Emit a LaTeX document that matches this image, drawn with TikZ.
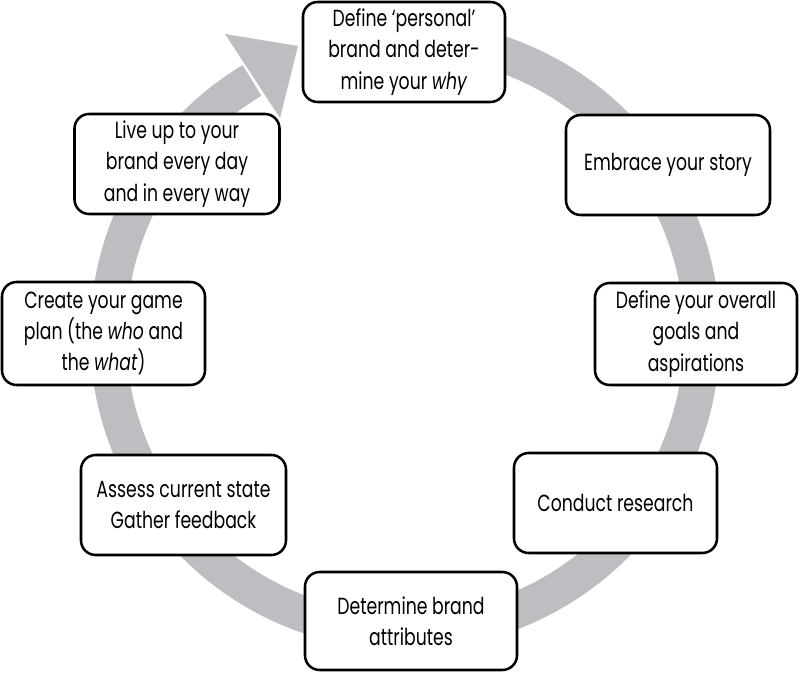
\documentclass[tikz,border=0pt]{standalone}
\usepackage{fontspec}
\setmainfont{Poppins}[FakeStretch=0.74]
\definecolor{ringgray}{RGB}{190,190,194}
\begin{document}
\begin{tikzpicture}[x=0.75pt,y=0.75pt,
  stagebox/.style={draw=black, line width=1.9pt, rounded corners=11pt, fill=white,
    align=center, inner sep=0pt, font=\fontsize{17.5}{23.5}\selectfont},
  ringband/.style={draw=ringgray, line width=27pt}]
\useasboundingbox (0,0) rectangle (800,675);
% ring
\coordinate (c) at (405,340);
\draw[ringband] ([shift={(80:222.75pt)}]c) arc[start angle=80, end angle=-239, radius=222.75pt];
\coordinate (hb1) at (225,641);
\coordinate (hb2) at (280,557);
\coordinate (htip) at (298,629);
\fill[ringgray] (hb1) -- (htip) -- (hb2) -- cycle;
% boxes
\node[stagebox, minimum width=202*0.75pt, minimum height=100*0.75pt] (n1) at (404,623) {Define `personal'\\ brand and deter-\\ mine your \textit{why}};
\node[stagebox, minimum width=204*0.75pt, minimum height=100*0.75pt] (n2) at (668,510) {Embrace your story};
\node[stagebox, minimum width=202*0.75pt, minimum height=102*0.75pt] (n3) at (696,341) {Define your overall\\ goals and\\ aspirations};
\node[stagebox, minimum width=203*0.75pt, minimum height=100*0.75pt] (n4) at (615.5,172) {Conduct research};
\node[stagebox, minimum width=212*0.75pt, minimum height=98*0.75pt] (n5) at (411,54) {Determine brand\\ attributes};
\node[stagebox, minimum width=205*0.75pt, minimum height=100*0.75pt] (n6) at (183.5,170) {Assess current state\\ Gather feedback};
\node[stagebox, minimum width=203*0.75pt, minimum height=103*0.75pt] (n7) at (103.5,341.5) {Create your game\\ plan (the \textit{who} and\\ the \textit{what})};
\node[stagebox, minimum width=205*0.75pt, minimum height=100*0.75pt] (n8) at (177,511) {Live up to your\\ brand every day\\ and in every way};
\end{tikzpicture}
\end{document}
